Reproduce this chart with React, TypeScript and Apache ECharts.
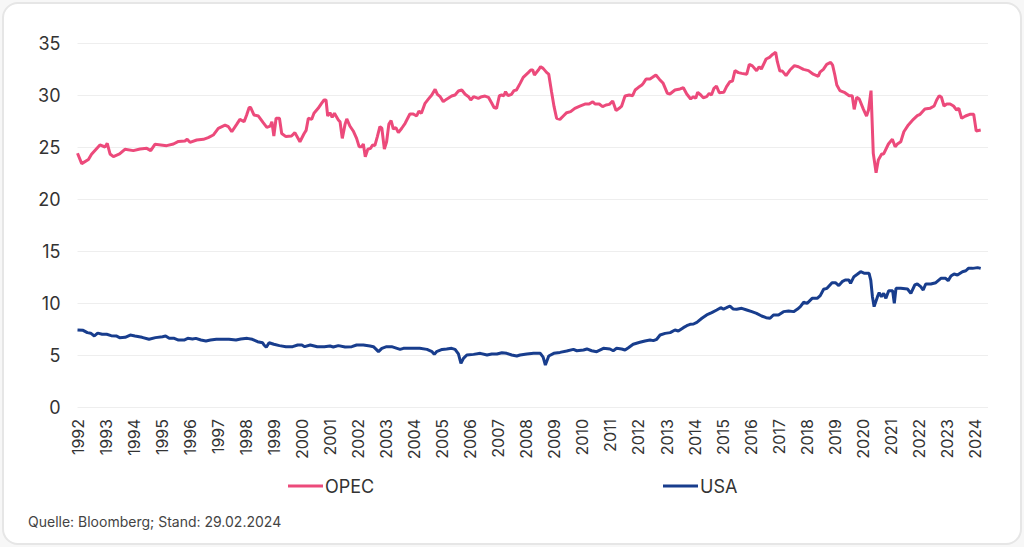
import React, { useEffect, useRef } from "react";
import * as echarts from "echarts";

const opecT = [
  1992.0, 1992.15, 1992.39, 1992.5, 1992.8, 1992.98, 1993.06, 1993.16, 1993.28, 1993.5, 1993.69, 1993.99,
  1994.23, 1994.47, 1994.61, 1994.76, 1995.18, 1995.42, 1995.6, 1995.83, 1995.91, 1996.01, 1996.25, 1996.49,
  1996.66, 1996.84, 1997.02, 1997.26, 1997.38, 1997.5, 1997.68, 1997.79, 1997.94, 1998.03, 1998.12, 1998.17,
  1998.29, 1998.45, 1998.62, 1998.75, 1998.87, 1998.93, 1999.0, 1999.08, 1999.2, 1999.28, 1999.43, 1999.63,
  1999.75, 1999.93, 2000.08, 2000.15, 2000.23, 2000.35, 2000.43, 2000.58, 2000.7, 2000.79, 2000.86, 2000.92,
  2001.0, 2001.08, 2001.16, 2001.3, 2001.36, 2001.44, 2001.54, 2001.6, 2001.71, 2001.83, 2001.95, 2002.04,
  2002.13, 2002.19, 2002.26, 2002.35, 2002.45, 2002.52, 2002.6, 2002.69, 2002.78, 2002.85, 2002.94, 2003.02,
  2003.1, 2003.18, 2003.26, 2003.35, 2003.44, 2003.56, 2003.68, 2003.85, 2003.97, 2004.09, 2004.17, 2004.26,
  2004.39, 2004.5, 2004.63, 2004.75, 2004.83, 2004.93, 2005.04, 2005.16, 2005.34, 2005.46, 2005.58, 2005.7,
  2005.82, 2005.94, 2006.02, 2006.12, 2006.29, 2006.41, 2006.53, 2006.65, 2006.77, 2006.85, 2006.94, 2007.04,
  2007.12, 2007.2, 2007.26, 2007.35, 2007.47, 2007.56, 2007.65, 2007.78, 2007.89, 2008.07, 2008.16, 2008.23,
  2008.29, 2008.43, 2008.51, 2008.6, 2008.73, 2008.8, 2008.9, 2008.99, 2009.08, 2009.2, 2009.32, 2009.44,
  2009.58, 2009.73, 2009.91, 2010.09, 2010.24, 2010.37, 2010.45, 2010.6, 2010.72, 2010.84, 2010.96, 2011.08,
  2011.2, 2011.31, 2011.4, 2011.52, 2011.67, 2011.79, 2011.88, 2012.0, 2012.12, 2012.17, 2012.27, 2012.41,
  2012.5, 2012.62, 2012.75, 2012.88, 2013.03, 2013.12, 2013.3, 2013.48, 2013.6, 2013.72, 2013.86, 2013.96,
  2014.04, 2014.11, 2014.22, 2014.31, 2014.43, 2014.52, 2014.6, 2014.69, 2014.78, 2014.88, 2015.04, 2015.14,
  2015.26, 2015.35, 2015.44, 2015.56, 2015.68, 2015.86, 2015.95, 2016.06, 2016.21, 2016.3, 2016.38, 2016.55,
  2016.67, 2016.78, 2016.89, 2016.95, 2017.04, 2017.13, 2017.26, 2017.4, 2017.56, 2017.7, 2017.88, 2018.06,
  2018.23, 2018.41, 2018.47, 2018.59, 2018.71, 2018.85, 2018.92, 2019.0, 2019.07, 2019.18, 2019.36, 2019.51,
  2019.62, 2019.69, 2019.78, 2019.87, 2020.02, 2020.13, 2020.2, 2020.29, 2020.37, 2020.47, 2020.55, 2020.67,
  2020.74, 2020.91, 2021.05, 2021.15, 2021.23, 2021.35, 2021.46, 2021.62, 2021.8, 2021.94, 2022.04, 2022.21,
  2022.39, 2022.54, 2022.63, 2022.72, 2022.8, 2022.89, 2022.99, 2023.11, 2023.23, 2023.34, 2023.42, 2023.52,
  2023.66, 2023.81, 2023.95, 2024.04, 2024.2,
];
const opecV = [
  24.4, 23.4, 23.8, 24.3, 25.2, 25.0, 25.35, 24.33, 24.07, 24.33, 24.78, 24.65,
  24.8, 24.87, 24.65, 25.26, 25.13, 25.29, 25.54, 25.58, 25.74, 25.45, 25.67, 25.74,
  25.9, 26.15, 26.8, 27.1, 26.95, 26.47, 27.2, 27.66, 27.43, 28.08, 28.8, 28.8,
  28.08, 27.98, 27.34, 26.89, 27.0, 27.43, 26.06, 27.76, 27.76, 26.3, 26.0, 26.06,
  26.38, 25.5, 26.3, 26.6, 27.76, 27.66, 28.24, 28.72, 29.2, 29.52, 29.52, 27.98,
  28.3, 27.85, 28.24, 27.6, 27.43, 25.83, 27.2, 27.7, 27.02, 26.54, 25.83, 25.03,
  25.03, 25.29, 24.07, 24.78, 24.87, 25.19, 25.13, 26.0, 26.95, 26.8, 24.8, 25.5,
  27.2, 27.53, 26.73, 26.86, 26.38, 26.8, 27.28, 28.17, 28.17, 27.98, 28.46, 28.24,
  29.2, 29.58, 30.0, 30.55, 30.07, 29.84, 29.36, 29.6, 29.9, 30.0, 30.38, 30.48,
  30.07, 29.84, 29.52, 29.84, 29.68, 29.84, 29.9, 29.78, 29.2, 28.8, 28.72, 29.93,
  30.0, 29.93, 30.32, 29.93, 30.07, 30.42, 30.48, 31.12, 31.7, 32.15, 32.4, 32.4,
  31.92, 32.4, 32.72, 32.56, 32.15, 32.0, 30.32, 28.88, 27.76, 27.66, 27.98, 28.3,
  28.4, 28.72, 28.94, 29.13, 29.13, 29.36, 29.13, 29.13, 28.88, 29.04, 29.1, 29.42,
  28.5, 28.72, 28.94, 29.9, 30.0, 29.93, 30.48, 30.74, 30.96, 31.12, 31.54, 31.54,
  31.7, 31.92, 31.5, 31.12, 30.16, 30.1, 30.48, 30.58, 30.7, 30.1, 29.62, 29.84,
  29.68, 30.26, 30.0, 29.74, 29.84, 30.16, 30.0, 30.64, 30.86, 30.22, 30.26, 30.8,
  31.28, 31.34, 32.34, 32.15, 32.08, 32.0, 32.95, 32.8, 32.34, 32.72, 32.5, 33.46,
  33.62, 33.9, 34.1, 33.2, 32.3, 32.3, 31.86, 32.4, 32.82, 32.72, 32.46, 32.34,
  32.0, 31.8, 32.2, 32.46, 32.95, 33.14, 32.88, 31.92, 30.96, 30.42, 30.22, 29.93,
  29.93, 28.62, 29.78, 29.62, 28.62, 27.98, 28.56, 30.42, 24.39, 22.53, 23.75, 24.33,
  24.33, 25.29, 25.74, 25.03, 25.29, 25.51, 26.47, 27.12, 27.66, 28.01, 28.14, 28.65,
  28.72, 28.94, 29.52, 29.93, 29.78, 28.94, 29.13, 29.13, 28.94, 28.56, 28.72, 27.76,
  27.98, 28.14, 28.14, 26.54, 26.63,
];

const usaT = [
  1992.0, 1992.2, 1992.35, 1992.47, 1992.6, 1992.72, 1992.88, 1993.04, 1993.2, 1993.38, 1993.5, 1993.7,
  1993.88, 1994.05, 1994.3, 1994.55, 1994.78, 1995.03, 1995.14, 1995.27, 1995.45, 1995.6, 1995.8, 1995.93,
  1996.1, 1996.22, 1996.4, 1996.58, 1996.74, 1996.95, 1997.18, 1997.4, 1997.65, 1997.82, 1998.05, 1998.23,
  1998.42, 1998.6, 1998.65, 1998.73, 1998.83, 1999.0, 1999.2, 1999.43, 1999.67, 1999.85, 2000.0, 2000.1,
  2000.3, 2000.55, 2000.8, 2001.0, 2001.12, 2001.3, 2001.54, 2001.78, 2001.95, 2002.19, 2002.43, 2002.55,
  2002.65, 2002.73, 2002.85, 2003.02, 2003.2, 2003.5, 2003.62, 2003.92, 2004.2, 2004.46, 2004.64, 2004.72,
  2004.8, 2005.0, 2005.16, 2005.34, 2005.46, 2005.58, 2005.67, 2005.76, 2005.88, 2006.12, 2006.36, 2006.6,
  2006.77, 2006.95, 2007.13, 2007.3, 2007.48, 2007.66, 2007.78, 2008.02, 2008.26, 2008.5, 2008.6, 2008.68,
  2008.8, 2008.98, 2009.2, 2009.44, 2009.68, 2009.8, 2010.04, 2010.16, 2010.33, 2010.51, 2010.75, 2010.98,
  2011.1, 2011.22, 2011.4, 2011.52, 2011.64, 2011.81, 2012.05, 2012.23, 2012.41, 2012.53, 2012.65, 2012.77,
  2012.95, 2013.13, 2013.3, 2013.42, 2013.6, 2013.72, 2013.84, 2013.96, 2014.08, 2014.26, 2014.43, 2014.61,
  2014.79, 2014.93, 2015.03, 2015.14, 2015.26, 2015.38, 2015.5, 2015.68, 2015.86, 2016.04, 2016.21, 2016.39,
  2016.55, 2016.69, 2016.81, 2016.99, 2017.17, 2017.35, 2017.53, 2017.67, 2017.77, 2017.89, 2018.01, 2018.19,
  2018.37, 2018.48, 2018.6, 2018.72, 2018.9, 2019.02, 2019.14, 2019.26, 2019.37, 2019.5, 2019.56, 2019.68,
  2019.8, 2019.92, 2020.06, 2020.22, 2020.28, 2020.34, 2020.4, 2020.52, 2020.58, 2020.66, 2020.74, 2020.82,
  2020.92, 2021.06, 2021.12, 2021.18, 2021.35, 2021.59, 2021.71, 2021.85, 2021.94, 2022.06, 2022.15, 2022.24,
  2022.42, 2022.6, 2022.78, 2022.95, 2023.04, 2023.14, 2023.25, 2023.37, 2023.55, 2023.67, 2023.76, 2023.91,
  2024.09, 2024.2,
];
const usaV = [
  7.4, 7.37, 7.15, 7.1, 6.83, 7.1, 6.99, 6.99, 6.86, 6.83, 6.67, 6.7,
  6.92, 6.83, 6.7, 6.51, 6.67, 6.76, 6.83, 6.6, 6.6, 6.44, 6.44, 6.6,
  6.54, 6.6, 6.44, 6.35, 6.44, 6.51, 6.51, 6.51, 6.44, 6.54, 6.6, 6.51,
  6.28, 6.18, 5.96, 5.74, 6.18, 6.03, 5.9, 5.8, 5.8, 5.96, 5.96, 5.8,
  5.96, 5.8, 5.8, 5.87, 5.77, 5.9, 5.77, 5.8, 5.96, 5.96, 5.87, 5.8,
  5.54, 5.32, 5.64, 5.8, 5.8, 5.54, 5.64, 5.64, 5.64, 5.54, 5.32, 5.06,
  5.32, 5.54, 5.58, 5.64, 5.54, 5.1, 4.2, 4.68, 5.0, 5.06, 5.16, 5.0,
  5.1, 5.1, 5.22, 5.16, 5.0, 4.9, 5.0, 5.1, 5.16, 5.16, 4.8, 4.04,
  4.9, 5.16, 5.25, 5.38, 5.54, 5.41, 5.48, 5.58, 5.41, 5.32, 5.64, 5.58,
  5.41, 5.64, 5.58, 5.48, 5.7, 6.03, 6.22, 6.35, 6.44, 6.38, 6.51, 6.92,
  7.08, 7.15, 7.4, 7.31, 7.63, 7.82, 7.95, 7.98, 8.14, 8.53, 8.85, 9.07,
  9.33, 9.55, 9.42, 9.55, 9.71, 9.42, 9.39, 9.49, 9.33, 9.17, 9.0, 8.75,
  8.59, 8.53, 8.85, 8.85, 9.17, 9.23, 9.17, 9.42, 9.65, 10.07, 9.97, 10.45,
  10.45, 10.71, 11.32, 11.41, 11.95, 11.95, 11.67, 12.05, 12.21, 12.21, 11.89, 12.53,
  12.76, 13.01, 12.85, 12.85, 12.21, 10.61, 9.65, 10.61, 10.99, 10.61, 10.93, 10.45,
  11.18, 11.18, 9.97, 11.41, 11.41, 11.35, 10.93, 11.73, 11.83, 11.57, 11.25, 11.83,
  11.83, 11.95, 12.37, 12.37, 12.15, 12.6, 12.79, 12.69, 13.01, 13.1, 13.33, 13.33,
  13.4, 13.33,
];

const seriesNames = ["OPEC", "USA"];
const seriesColors = ["#EC4A7B", "#183D8D"];
const sourceText = "Quelle: Bloomberg; Stand: 29.02.2024";

const zip = (t: number[], v: number[]) => t.map((x, i) => [x, v[i]]);

export default function App() {
  const ref = useRef<HTMLDivElement>(null);
  useEffect(() => {
    if (!ref.current) return;
    const chart = echarts.init(ref.current, undefined, { renderer: "svg" });
    const font = "Inter, Roboto, 'Noto Sans', sans-serif";
    chart.setOption({
      animation: false,
      textStyle: { fontFamily: font },
      grid: { left: 77.5, right: 36, top: 43, bottom: 140 },
      legend: [
        {
          data: [seriesNames[0]],
          left: 288,
          top: 477,
          padding: 0,
          icon: "rect",
          itemWidth: 35,
          itemHeight: 3,
          textStyle: { fontSize: 18, color: "#333", fontFamily: font, padding: [0, 0, 0, -3] },
        },
        {
          data: [seriesNames[1]],
          left: 663,
          top: 477,
          padding: 0,
          icon: "rect",
          itemWidth: 35,
          itemHeight: 3,
          textStyle: { fontSize: 18, color: "#333", fontFamily: font, padding: [0, 0, 0, -3] },
        },
      ],
      xAxis: {
        type: "value",
        min: 1992,
        max: 2024.46,
        interval: 1,
        axisLine: { show: false },
        axisTick: { show: false },
        splitLine: { show: false },
        axisLabel: {
          rotate: 90,
          margin: 12,
          fontSize: 16,
          color: "#333",
          fontFamily: font,
          showMaxLabel: false,
          formatter: (v: number) => (Math.abs(v - Math.round(v)) < 1e-6 ? String(Math.round(v)) : ""),
        },
      },
      yAxis: {
        type: "value",
        min: 0,
        max: 35,
        interval: 5,
        axisLine: { show: false },
        axisTick: { show: false },
        splitLine: { lineStyle: { color: "#eeeeee", width: 1 } },
        axisLabel: { fontSize: 18, color: "#333", margin: 17, fontFamily: font },
      },
      series: [
        {
          name: seriesNames[0],
          type: "line",
          data: zip(opecT, opecV),
          showSymbol: false,
          symbol: "none",
          lineStyle: { width: 3, color: seriesColors[0] },
          itemStyle: { color: seriesColors[0] },
        },
        {
          name: seriesNames[1],
          type: "line",
          data: zip(usaT, usaV),
          showSymbol: false,
          symbol: "none",
          lineStyle: { width: 3, color: seriesColors[1] },
          itemStyle: { color: seriesColors[1] },
        },
      ],
      graphic: [
        {
          type: "text",
          left: 28,
          top: 514,
          style: { text: sourceText, fontSize: 14, fill: "#444", fontFamily: font },
        },
      ],
    });
    return () => chart.dispose();
  }, []);

  return (
    <div style={{ position: "fixed", left: 0, top: 0, width: 1024, height: 547, background: "#f7f7f7" }}>
      <div
        style={{
          position: "absolute",
          left: 2,
          top: 2,
          width: 1016,
          height: 539,
          borderRadius: 16,
          border: "2px solid #e6e6e6",
          background: "#ffffff",
        }}
      />
      <div ref={ref} style={{ position: "absolute", left: 0, top: 0, width: 1024, height: 547 }} />
    </div>
  );
}
